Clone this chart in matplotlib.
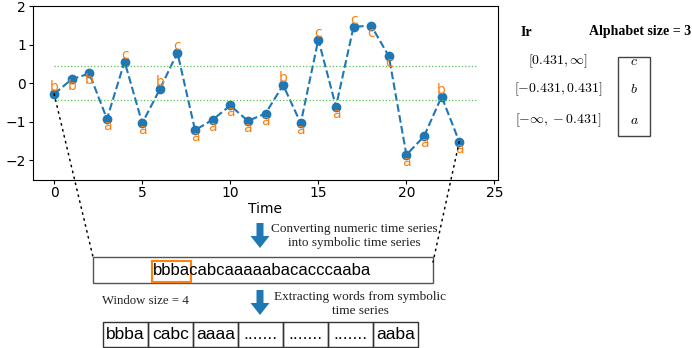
import numpy as np
import matplotlib.pyplot as plt
from matplotlib.patches import Rectangle, ConnectionPatch

# time series (z-normalised) and its SAX symbols
values = [-0.28, 0.10, 0.25, -0.93, 0.56, -1.04, -0.16, 0.79, -1.22, -0.95,
          -0.58, -0.98, -0.79, -0.05, -1.04, 1.13, -0.61, 1.46, 1.49, 0.70,
          -1.86, -1.38, -0.35, -1.52]
symbols = "bbbacabcaaaaabacacccaaba"
breakpoint = 0.431
intervals = [r'$[0.431, \infty]$', r'$[-0.431, 0.431]$', r'$[-\infty, -0.431]$']
alphabet = ['c', 'b', 'a']
window = 4
words = ['bbba', 'cabc', 'aaaa', '.......', '.......', '.......', 'aaba']

label_above = [0, 4, 6, 7, 13, 15, 17, 22]

serif = 'Liberation Serif'
sans = 'Liberation Sans'
plt.rcParams['mathtext.fontset'] = 'cm'

W, H = 692, 348
fig = plt.figure(figsize=(W / 100, H / 100), dpi=100)

# overlay in pixel coordinates for the diagram part
ov = fig.add_axes([0, 0, 1, 1])
ov.set_xlim(0, W)
ov.set_ylim(H, 0)
ov.axis('off')

ax = fig.add_axes([33 / W, 1 - 179.5 / H, (498 - 33) / W, (179.5 - 6) / H])
t = np.arange(len(values))
ax.plot(t, values, '--o', color='#1f77b4', ms=6, lw=1.5)
ax.hlines([breakpoint, -breakpoint], 0, len(values), colors='#55c055',
          linestyles=':', lw=0.9)
for i, (v, s) in enumerate(zip(values, symbols)):
    dy = 5 if i in label_above else -5
    ax.annotate(s, (i, v), xytext=(0, dy), textcoords='offset points',
                ha='center', va='center', color='#ff7f0e', fontsize=10)
ax.set_xlim(-1.2, 25.2)
ax.set_ylim(-2.5, 2)
ax.set_xticks([0, 5, 10, 15, 20, 25])
ax.set_yticks([-2, -1, 0, 1, 2])
ax.tick_params(length=3, pad=2)
ax.set_xlabel('Time', labelpad=1)

# breakpoint table
ov.text(526, 32, 'Ir', ha='center', va='center', family=serif,
        fontweight='bold', fontsize=10)
ov.text(640, 32, 'Alphabet size = 3', ha='center', va='center', family=serif,
        fontweight='bold', fontsize=10)
ov.add_patch(Rectangle((618, 57), 32, 79, fill=False, ec='#444444', lw=1))
for k, (iv, a) in enumerate(zip(intervals, alphabet)):
    y = [61, 89, 120][k]
    ov.text(558, y, iv, ha='center', va='center', fontsize=10)
    ov.text(634, y, '$' + a + '$', ha='center', va='center', fontsize=10)

# arrows and captions
for y0 in (223, 290):
    ov.arrow(260, y0, 0, 25, width=7, head_width=19, head_length=12,
             length_includes_head=True, color='#1f77b4', lw=0)
ov.text(354, 236, 'Converting numeric time series\ninto symbolic time series',
        ha='center', va='center', family=serif, fontsize=9.5, linespacing=1.2,
        color='#222222')
ov.text(360, 304, 'Extracting words from symbolic\ntime series',
        ha='center', va='center', family=serif, fontsize=9.5, linespacing=1.2,
        color='#222222')
ov.text(102, 301, 'Window size = %d' % window, ha='left', va='center',
        family=serif, fontsize=9.2, color='#222222')

# symbolic series box
ov.add_patch(Rectangle((93, 257), 340, 26, fill=False, ec='#555555', lw=1))
ov.text(153, 270.5, symbols, ha='left', va='center', family=sans,
        fontsize=12)
ov.add_patch(Rectangle((152, 261), 39, 21, fill=False, ec='#ff7f0e', lw=1.5))

# word cells
for j, w in enumerate(words):
    x0 = 103 + 45 * j
    ov.add_patch(Rectangle((x0, 322), 45, 25, fill=False, ec='#333333', lw=1))
    ov.text(x0 + 22.5, 334.5, w, ha='center', va='center', family=sans,
            fontsize=12.5)

# dotted guides from the series to the symbol box
for i, xy in ((0, (93, 257)), (len(values) - 1, (433, 262))):
    con = ConnectionPatch(xyA=(i, values[i]), coordsA=ax.transData,
                          xyB=xy, coordsB=ov.transData,
                          ls=(0, (1, 3)), color='black', lw=1.1)
    fig.add_artist(con)

fig.savefig('out.png', dpi=100)
